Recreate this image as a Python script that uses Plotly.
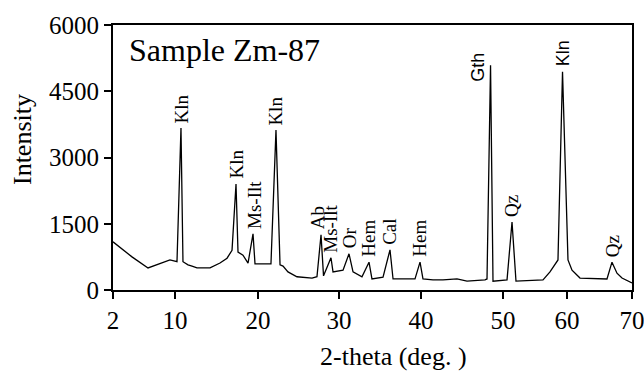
import numpy as np
import plotly.graph_objects as go

# XRD pattern of sample Zm-87 (2-theta in degrees, intensity in counts)
two_theta = [
    2.00, 4.45, 6.52, 9.35, 10.24, 10.72, 10.96, 11.57, 12.05, 12.65,
    14.22, 15.42, 16.27, 16.87, 17.35, 17.59, 18.19, 18.80, 19.40, 19.64,
    21.60, 22.22, 22.72, 23.09, 23.70, 24.32, 24.81, 26.67, 27.28, 27.78,
    28.09, 29.01, 29.26, 30.49, 31.22, 31.71, 32.80, 33.66, 34.02, 35.37,
    36.22, 36.59, 39.27, 39.88, 40.24, 41.46, 42.68, 44.39, 45.61, 47.80,
    48.05, 48.48, 48.78, 50.63, 51.41, 52.03, 56.25, 57.34, 58.59, 59.30,
    60.15, 60.77, 62.00, 66.15, 66.92, 67.69, 68.46, 70.00,
]
intensity = [
    1090, 750, 500, 680, 640, 3670, 640, 570, 540, 500,
    500, 610, 720, 900, 2400, 860, 790, 610, 1270, 590,
    590, 3620, 570, 540, 410, 340, 300, 270, 300, 1250,
    320, 730, 410, 450, 820, 410, 300, 630, 250, 290,
    910, 250, 250, 630, 250, 230, 230, 250, 200, 230,
    250, 5090, 200, 230, 1540, 200, 230, 410, 680, 4940,
    680, 450, 270, 250, 630, 380, 270, 160,
]

# Mineral identification of the main reflections
peak_labels = ["Kln", "Kln", "Ms-Ilt", "Kln", "Ab", "Ms-Ilt", "Or",
               "Hem", "Cal", "Hem", "Gth", "Qz", "Kln", "Qz"]
peak_theta = [10.72, 17.35, 19.40, 22.22, 27.78, 29.01, 31.22,
              33.66, 36.22, 39.88, 48.48, 51.41, 59.30, 66.92]

x_tick_labels = [2, 10, 20, 30, 40, 50, 60, 70]
y_tick_labels = [0, 1500, 3000, 4500, 6000]

# The printed 2-theta axis is not evenly spaced: width of each tick interval
interval_width = [62, 83, 81, 82, 82, 64, 65]
axis_stops = np.concatenate([[0], np.cumsum(interval_width)])


def to_axis(t):
    return np.interp(t, x_tick_labels, axis_stops)


SERIF = "Liberation Serif, Times New Roman, serif"
SANS = "Liberation Sans, Arial, sans-serif"

fig = go.Figure()
fig.add_trace(go.Scatter(
    x=to_axis(two_theta), y=intensity, mode="lines",
    line=dict(color="black", width=1.3), hoverinfo="skip", showlegend=False,
))

lookup = dict(zip(two_theta, intensity))
sans_labels = {10, 12}          # Gth and the 60-degree Kln use a sans face
nudge_x = {2: 2, 4: -4}
annotations = []
for i, (lab, th) in enumerate(zip(peak_labels, peak_theta)):
    y = lookup[th]
    fam = SANS if i in sans_labels else SERIF
    size = 18 if i in sans_labels else 19
    if lab == "Gth":
        annotations.append(dict(
            x=to_axis(th), y=y, xref="x", yref="y", text=lab, showarrow=False,
            textangle=-90, xanchor="center", yanchor="middle",
            xshift=-12, yshift=-2, font=dict(family=fam, size=size, color="black"),
        ))
    else:
        annotations.append(dict(
            x=to_axis(th), y=y, xref="x", yref="y", text=lab, showarrow=False,
            textangle=-90, xanchor="center", yanchor="bottom",
            xshift=nudge_x.get(i, 0), yshift=3,
            font=dict(family=fam, size=size, color="black"),
        ))

annotations += [
    dict(x=0.027, y=0.906, xref="paper", yref="paper", text="Sample Zm-87",
         showarrow=False, xanchor="left", yanchor="middle",
         font=dict(family=SERIF, size=32, color="black")),
    dict(x=0, y=0.566, xref="paper", yref="paper", text="Intensity",
         showarrow=False, textangle=-90, xanchor="center", yanchor="middle",
         xshift=-91, font=dict(family=SERIF, size=26, color="black")),
    dict(x=0.541, y=0, xref="paper", yref="paper", text="2-theta (deg. )",
         showarrow=False, xanchor="center", yanchor="middle",
         yshift=-66, font=dict(family=SERIF, size=26, color="black")),
]

fig.update_layout(
    width=644, height=371,
    margin=dict(l=113, r=12, t=25, b=81, autoexpand=False),
    paper_bgcolor="white", plot_bgcolor="white",
    annotations=annotations,
    xaxis=dict(
        range=[axis_stops[0], axis_stops[-1]], automargin=False,
        tickmode="array", tickvals=to_axis(x_tick_labels),
        ticktext=[str(v) for v in x_tick_labels],
        ticklabeloverflow="allow",
        ticks="outside", ticklen=7, tickwidth=2, tickcolor="black",
        showline=True, linecolor="black", linewidth=2, mirror=True,
        showgrid=False, zeroline=False,
        tickfont=dict(family=SERIF, size=25, color="black"),
    ),
    yaxis=dict(
        range=[0, 6000], automargin=False,
        tickmode="array", tickvals=y_tick_labels,
        ticklabeloverflow="allow",
        ticks="outside", ticklen=7, tickwidth=2, tickcolor="black",
        showline=True, linecolor="black", linewidth=2, mirror=True,
        showgrid=False, zeroline=False,
        tickfont=dict(family=SERIF, size=25, color="black"),
    ),
)

fig.write_html("out.html")
